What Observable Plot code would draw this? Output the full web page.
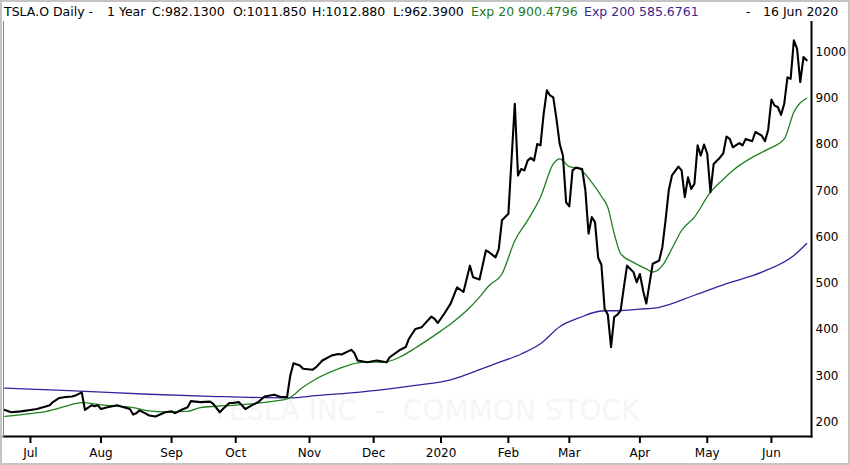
<!DOCTYPE html>
<html>
<head>
<meta charset="utf-8">
<script src="https://cdn.jsdelivr.net/npm/d3@7"></script>
<script src="https://cdn.jsdelivr.net/npm/@observablehq/plot@0.6"></script>
<style>
  html, body { margin: 0; padding: 0; background: #fff; }
  #wrap { position: relative; width: 850px; height: 465px; box-sizing: border-box; border: 2px solid #c4c4c4; background: #fff; overflow: hidden; }
  #hdr { position: relative; height: 19px; font-family: "DejaVu Sans", sans-serif; font-size: 12.5px; line-height: 15px; white-space: pre; color: #000; }
  #hdr span { position: absolute; top: 2px; }
  #chart svg { display: block; }
</style>
</head>
<body>
<div id="wrap">
  <div id="hdr"></div>
  <div id="chart"></div>
</div>
<script>
// ---- data (trading-day index from 19 Jun 2019 to 16 Jun 2020) ----
const closeDay = [0,2,5,8,10,13,14,15,17,19,21,22,24,25,27,28,29,30,32,35,36,39,40,41,42,44,45,47,50,52,53,55,57,58,61,64,65,67,68,70,71,73,75,77,79,81,84,86,88,89,90,92,93,96,97,99,102,104,105,108,109,110,113,116,119,120,123,125,126,128,130,133,134,135,137,139,141,143,145,146,148,150,151,153,154,155,157,159,160,161,162,163,164,165,166,167,168,169,170,171,172,173,174,175,176,177,178,180,181,182,183,184,185,186,187,188,189,190,191,192,193,194,196,197,198,199,200,201,202,204,205,206,207,208,210,211,212,213,214,215,216,217,218,219,220,221,223,224,225,226,227,229,230,231,233,234,236,237,238,239,240,241,242,243,244,245,246,247,248,249,250];
const closeVal = [226,221,223,226,228,234,236,243,252,254,255,257,264,226,236,234,236,228,232,236,234,228,216,219,225,218,214,212,221,223,219,226,232,245,243,244,239,221,228,241,241,243,228,236,243,255,259,254,254,300,327,322,315,313,318,333,344,347,346,356,349,333,329,333,329,340,355,362,380,401,405,428,423,414,434,456,491,481,538,513,508,571,567,556,574,636,650,888,733,747,744,765,771,765,801,798,866,917,906,902,855,801,776,675,666,744,750,747,701,607,643,632,555,540,445,432,362,427,432,441,491,538,524,502,520,484,456,499,542,549,578,636,701,733,752,744,686,729,704,715,798,776,800,780,697,758,772,781,817,812,794,803,798,812,807,827,819,807,832,897,884,881,864,888,945,942,1025,1007,935,989,982];

const ema20Day = [0,8,13,18,24,30,40,45,50,57,61,66,71,77,84,88,90,92,97,104,110,114,118,123,128,132,136,139,144,148,151,155,159,163,167,171,173,176,179,183,186,188,190,192,196,200,202,205,208,211,215,220,224,227,233,238,243,246,250];
const ema20Val = [212,218,223,232,242,237,231,224,222,223,231,234,236,239,245,250,258,270,293,315,328,330,329,340,360,378,397,412,441,470,495,520,592,636,686,758,769,752,748,718,688,664,607,564,545,531,524,538,575,614,643,697,725,744,772,790,812,870,900];

const ema200Day = [0,20,45,66,89,97,108,118,128,139,148,153,161,167,173,179,186,192,198,204,215,225,236,246,250];
const ema200Val = [273,268,260,255,252,257,263,270,279,291,313,326,347,369,406,425,440,441,444,448,474,499,524,560,586];

const monthTicks = [8,30,52,72,95,115,136,157,176,198,219,239];
const monthLabels = ["Jul","Aug","Sep","Oct","Nov","Dec","2020","Feb","Mar","Apr","May","Jun"];
const priceTicks = [200,300,400,500,600,700,800,900,1000];

const headerParts = [
  {text: "TSLA.O Daily -", left: 2, color: "#000"},
  {text: "1 Year", left: 105, color: "#000"},
  {text: "C:982.1300", left: 150, color: "#000"},
  {text: "O:1011.850", left: 231, color: "#000"},
  {text: "H:1012.880", left: 310, color: "#000"},
  {text: "L:962.3900", left: 391, color: "#000"},
  {text: "Exp 20 900.4796", left: 469, color: "#1d7a1d"},
  {text: "Exp 200 585.6761", left: 582, color: "#3d2590"},
  {text: "-", left: 744, color: "#000"},
  {text: "16 Jun 2020", left: 761, color: "#000"}
];
const watermark = ["TESLA INC  -  COMMON STOCK"];

// ---- build ----
const hdr = document.getElementById("hdr");
for (const p of headerParts) {
  const s = document.createElement("span");
  s.textContent = p.text;
  s.style.left = p.left + "px";
  s.style.color = p.color;
  hdr.appendChild(s);
}

const close = closeDay.map((d, i) => ({day: d, v: closeVal[i]}));
const ema20 = ema20Day.map((d, i) => ({day: d, v: ema20Val[i]}));
const ema200 = ema200Day.map((d, i) => ({day: d, v: ema200Val[i]}));

const chart = Plot.plot({
  width: 846,
  height: 442,
  marginTop: 0,
  marginBottom: 27,
  marginLeft: 1,
  marginRight: 37,
  x: {domain: [-0.4, 251.5], axis: null},
  y: {domain: [168.6, 1065.9], axis: null},
  style: {fontFamily: "DejaVu Sans, sans-serif", fontSize: "12px", color: "#000", background: "#fff"},
  marks: [
    Plot.text(watermark, {frameAnchor: "bottom", dx: 18, dy: -17, lineAnchor: "bottom", text: d => d, fontSize: 28, fill: "#f5f5f5"}),
    Plot.line(ema200, {x: "day", y: "v", stroke: "#3d1f9c", strokeWidth: 1.3, curve: "monotone-x"}),
    Plot.line(ema20, {x: "day", y: "v", stroke: "#1f801f", strokeWidth: 1.3, curve: "monotone-x"}),
    Plot.line(close, {x: "day", y: "v", stroke: "#000", strokeWidth: 2.1}),
    Plot.axisX(monthTicks, {anchor: "bottom", label: null, tickSize: 7, tickPadding: 5, strokeWidth: 2, tickFormat: d => monthLabels[monthTicks.indexOf(d)], fill: "#000"}),
    Plot.axisY(priceTicks, {anchor: "right", label: null, tickSize: 0, tickPadding: 4, tickFormat: d => String(d), fill: "#000"}),
    Plot.frame({anchor: "bottom", stroke: "#000", strokeWidth: 2}),
    Plot.frame({anchor: "right", stroke: "#000", strokeWidth: 2}),
    Plot.frame({anchor: "left", stroke: "#888", strokeWidth: 1})
  ]
});
document.getElementById("chart").appendChild(chart);
</script>
</body>
</html>
